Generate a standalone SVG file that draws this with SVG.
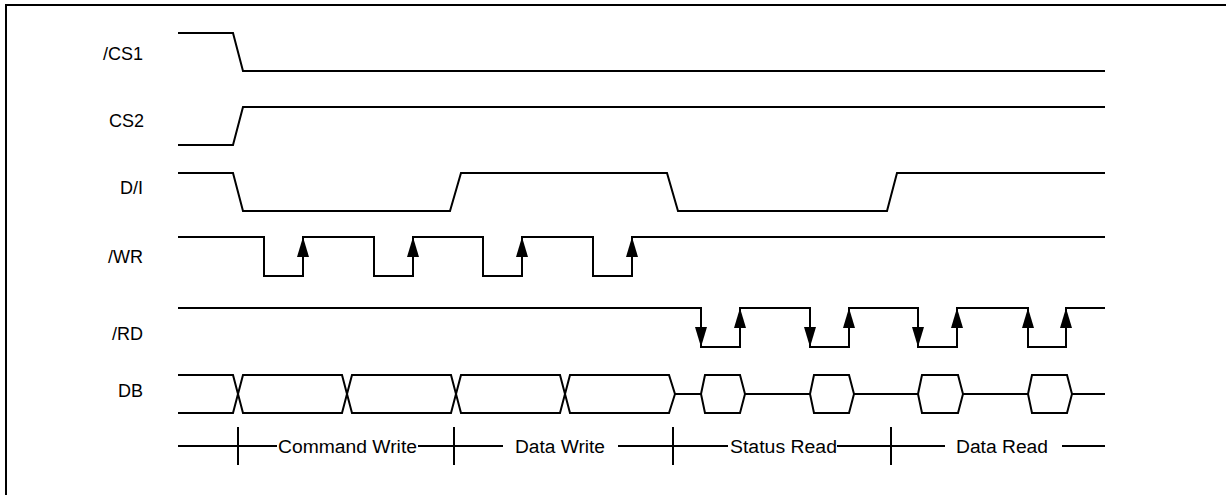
<svg xmlns="http://www.w3.org/2000/svg" xmlns:xlink="http://www.w3.org/1999/xlink" width="1226" height="495" viewBox="0 0 1226 495">
<style>
.sig{fill:none;stroke:#000;stroke-width:2;stroke-linejoin:miter}
.lbl{font-family:"Liberation Sans",Arial,sans-serif;font-size:18px;fill:#000;text-anchor:end}
.tl{font-family:"Liberation Sans",Arial,sans-serif;font-size:18px;fill:#000}
.ah{fill:#000;stroke:none}
</style>
<defs>
<polygon id="up" class="ah" points="0,0 -6,20 6,20"/>
<polygon id="dn" class="ah" points="0,0 -6,-20 6,-20"/>
</defs>
<rect width="1226" height="495" fill="#fff"/>
<g id="frame">
<path class="sig" d="M6,495 V5 H1226" stroke-width="2.5"/>
</g>
<g id="labels">
<text class="lbl" x="143" y="60">/CS1</text>
<text class="lbl" x="144" y="127">CS2</text>
<text class="lbl" x="143" y="194">D/I</text>
<text class="lbl" x="143" y="263">/WR</text>
<text class="lbl" x="143" y="340">/RD</text>
<text class="lbl" x="143" y="397">DB</text>
</g>
<g id="connectors">
<g id="cs1"><path class="sig" d="M178,33 H233 L243,71 H1105"/></g>
<g id="cs2"><path class="sig" d="M178,145 H233 L243,107 H1105"/></g>
<g id="di"><path class="sig" d="M178,173 H233 L243,211 H450 L461,173 H667 L678,211 H887 L897,173 H1105"/></g>
<g id="wr">
<path class="sig" d="M178,237 H264 V276 H303 V237 H374 V276 H413 V237 H483 V276 H522 V237 H593 V276 H632 V237 H1105"/>
<use xlink:href="#up" x="303" y="237"/>
<use xlink:href="#up" x="413" y="237"/>
<use xlink:href="#up" x="522" y="237"/>
<use xlink:href="#up" x="632" y="237"/>
</g>
<g id="rd">
<path class="sig" d="M178,308 H701 V347 H740 V308 H810 V347 H849 V308 H918 V347 H957 V308 H1028 V347 H1066 V308 H1105"/>
<use xlink:href="#dn" x="701" y="347"/>
<use xlink:href="#dn" x="810" y="347"/>
<use xlink:href="#dn" x="918" y="347"/>
<use xlink:href="#up" x="740" y="308"/>
<use xlink:href="#up" x="849" y="308"/>
<use xlink:href="#up" x="957" y="308"/>
<use xlink:href="#up" x="1028" y="308"/>
<use xlink:href="#up" x="1066" y="308"/>
</g>
<g id="db">
<path class="sig" d="M178,375 H233 L243,413 H342 L352,375 H451 L461,413 H560 L570,375 H669 L675,394 H701"/>
<path class="sig" d="M178,413 H233 L243,375 H342 L352,413 H451 L461,375 H560 L570,413 H669 L675,394"/>
<polygon class="sig" points="701,394 705,375 740,375 745,394 740,413 705,413"/>
<path class="sig" d="M745,394 H810"/>
<polygon class="sig" points="810,394 814,375 849,375 854,394 849,413 814,413"/>
<path class="sig" d="M854,394 H918"/>
<polygon class="sig" points="918,394 922,375 958,375 963,394 958,413 922,413"/>
<path class="sig" d="M963,394 H1028"/>
<polygon class="sig" points="1028,394 1032,375 1067,375 1072,394 1067,413 1032,413"/>
<path class="sig" d="M1072,394 H1105"/>
</g>
<g id="timeline">
<path class="sig" d="M178,446 H277 M418,446 H503 M618,446 H728 M837,446 H945 M1062,446 H1105 M238,427 V465 M454,427 V465 M673,427 V465 M891,427 V465"/>
</g>
</g>
<g id="phase-labels">
<text class="tl" x="278" y="452.5" textLength="139" lengthAdjust="spacingAndGlyphs">Command Write</text>
<text class="tl" x="515" y="452.5" textLength="90" lengthAdjust="spacingAndGlyphs">Data Write</text>
<text class="tl" x="730" y="452.5" textLength="107" lengthAdjust="spacingAndGlyphs">Status Read</text>
<text class="tl" x="956" y="452.5" textLength="92" lengthAdjust="spacingAndGlyphs">Data Read</text>
</g>
</svg>
